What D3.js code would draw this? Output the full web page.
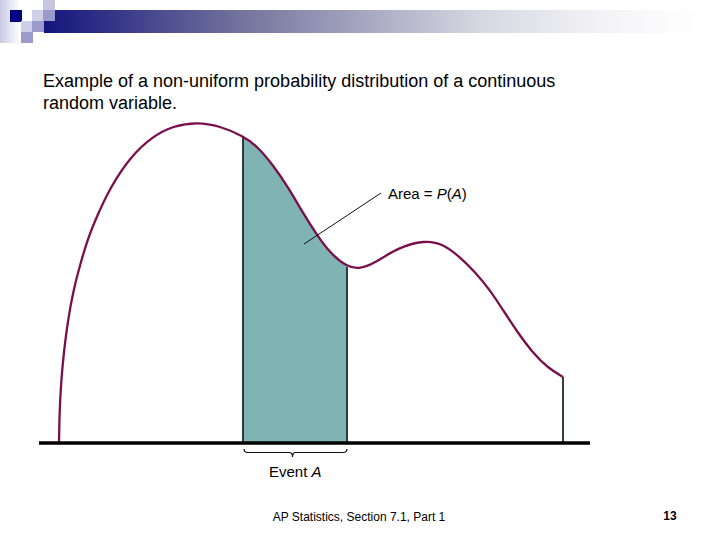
<!DOCTYPE html>
<html>
<head>
<meta charset="utf-8">
<script src="https://cdn.jsdelivr.net/npm/d3@7"></script>
<style>
  html, body { margin: 0; padding: 0; background: #fff; }
  svg { display: block; }
  text { font-family: "Liberation Sans", Arial, sans-serif; fill: #000; }
</style>
</head>
<body>
<svg id="chart" width="720" height="540"></svg>
<script>
// values, x from left end of curve, density above baseline
var curveX = [0, 0.5, 2, 5, 9, 14, 21, 29, 38, 51, 71, 94, 114, 138, 161, 184, 198, 214, 229, 244, 258, 271, 288, 301, 316, 338, 366, 384, 401, 416, 431, 444, 459, 474, 489, 504];
var curveY = [0, 30, 60, 93, 123, 151, 178, 205, 227, 255, 286, 307, 317, 321, 317, 307, 297, 278, 256, 230, 208, 190, 176, 174, 180, 195, 203, 199, 186, 171, 153, 133, 110, 90, 75, 66];
var eventStart = 184;
var eventEnd = 288;
var titleLines = ["Example of a non-uniform probability distribution of a continuous", "random variable."];
var areaLabel = ["Area = ", "P", "(", "A", ")"];
var eventLabel = ["Event ", "A"];
var footer = "AP Statistics, Section 7.1, Part 1";
var pageNumber = "13";

var svg = d3.select("#chart");

var x = d3.scaleLinear().domain([0, 504]).range([59, 563]);
var y = d3.scaleLinear().domain([0, 320]).range([443, 123]);

var points = curveX.map(function(d, i) { return { x: d, y: curveY[i] }; });

// slide decoration
var defs = svg.append("defs");
var banner = defs.append("linearGradient").attr("id", "banner");
[[0, "#14147e"], [0.3, "#73739d"], [0.67, "#d8d8e3"], [0.85, "#f3f3f6"], [1, "#ffffff"]].forEach(function(s) {
    banner.append("stop").attr("offset", s[0]).attr("stop-color", s[1]);
});
var side = defs.append("linearGradient").attr("id", "side");
side.append("stop").attr("offset", 0).attr("stop-color", "#c8c8e2");
side.append("stop").attr("offset", 1).attr("stop-color", "#ffffff");

defs.append("clipPath").attr("id", "eventClip")
    .append("rect")
    .attr("x", x(eventStart))
    .attr("y", 0)
    .attr("width", x(eventEnd) - x(eventStart))
    .attr("height", 540);

svg.append("rect").attr("x", 0).attr("y", 0).attr("width", 20).attr("height", 43).attr("fill", "url(#side)");
svg.append("rect").attr("x", 44).attr("y", 10).attr("width", 656).attr("height", 23).attr("fill", "url(#banner)");

var squares = [
    [10, 10, 12, 12, "#000080"],
    [43, 0, 12, 10, "#c6c6e2"],
    [32, 10, 11, 11, "#cfcfe8"],
    [43, 10, 12, 11, "#9a9acb"],
    [21, 21, 11, 11, "#cfcfe8"],
    [32, 21, 12, 11, "#9a9acb"],
    [21, 32, 12, 11, "#9a9acb"]
];
svg.selectAll(".square")
    .data(squares)
    .enter().append("rect")
    .attr("class", "square")
    .attr("x", function(d) { return d[0]; })
    .attr("y", function(d) { return d[1]; })
    .attr("width", function(d) { return d[2]; })
    .attr("height", function(d) { return d[3]; })
    .attr("fill", function(d) { return d[4]; });

// title
svg.selectAll(".title")
    .data(titleLines)
    .enter().append("text")
    .attr("class", "title")
    .attr("x", 43)
    .attr("y", function(d, i) { return 87 + i * 22; })
    .attr("font-size", 18)
    .text(function(d) { return d; });

var curve = d3.curveBasis;

// shaded event
var area = d3.area()
    .x(function(d) { return x(d.x); })
    .y0(y(0))
    .y1(function(d) { return y(d.y); })
    .curve(curve);

svg.append("path")
    .attr("d", area(points))
    .attr("clip-path", "url(#eventClip)")
    .attr("fill", "#80b3b3");

// vertical edges
var edges = [eventStart, eventEnd, curveX[curveX.length - 1]];
svg.selectAll(".edge")
    .data(edges)
    .enter().append("line")
    .attr("class", "edge")
    .attr("x1", function(d) { return x(d); })
    .attr("x2", function(d) { return x(d); })
    .attr("y1", y(0))
    .attr("y2", function(d) {
        return y(points.find(function(p) { return p.x === d; }).y);
    })
    .attr("stroke", "#1f2a2a")
    .attr("stroke-width", 1.8);

// density curve
var line = d3.line()
    .x(function(d) { return x(d.x); })
    .y(function(d) { return y(d.y); })
    .curve(curve);

svg.append("path")
    .attr("d", line(points))
    .attr("fill", "none")
    .attr("stroke", "#7a0f4c")
    .attr("stroke-width", 2.3);

// baseline
svg.append("line")
    .attr("x1", 39)
    .attr("x2", 590)
    .attr("y1", y(0))
    .attr("y2", y(0))
    .attr("stroke", "#000")
    .attr("stroke-width", 3.5);

// leader to the area label
svg.append("line")
    .attr("x1", 304)
    .attr("y1", 244)
    .attr("x2", 381)
    .attr("y2", 193)
    .attr("stroke", "#111")
    .attr("stroke-width", 1);

var areaText = svg.append("text")
    .attr("x", 388)
    .attr("y", 199)
    .attr("font-size", 15);
areaLabel.forEach(function(d) {
    areaText.append("tspan")
        .attr("font-style", d === "P" || d === "A" ? "italic" : "normal")
        .text(d);
});

// brace under the event
var bl = x(eventStart) + 1, br = x(eventEnd), bm = (bl + br) / 2 - 3;
svg.append("path")
    .attr("d", "M" + bl + ",449 Q" + bl + ",452.5 " + (bl + 4) + ",452.5 L" + (bm - 3) + ",452.5 Q" + bm + ",452.5 " + bm + ",457"
        + " Q" + bm + ",452.5 " + (bm + 3) + ",452.5 L" + (br - 4) + ",452.5 Q" + br + ",452.5 " + br + ",449")
    .attr("fill", "none")
    .attr("stroke", "#111")
    .attr("stroke-width", 1.2);

var eventText = svg.append("text")
    .attr("x", 269)
    .attr("y", 477)
    .attr("font-size", 15);
eventLabel.forEach(function(d) {
    eventText.append("tspan")
        .attr("font-style", d === "A" ? "italic" : "normal")
        .text(d);
});

// footer
svg.append("text")
    .attr("x", 359)
    .attr("y", 521)
    .attr("text-anchor", "middle")
    .attr("font-size", 12)
    .text(footer);

svg.append("text")
    .attr("x", 670)
    .attr("y", 520)
    .attr("text-anchor", "middle")
    .attr("font-size", 12)
    .attr("font-weight", "bold")
    .text(pageNumber);
</script>
</body>
</html>
